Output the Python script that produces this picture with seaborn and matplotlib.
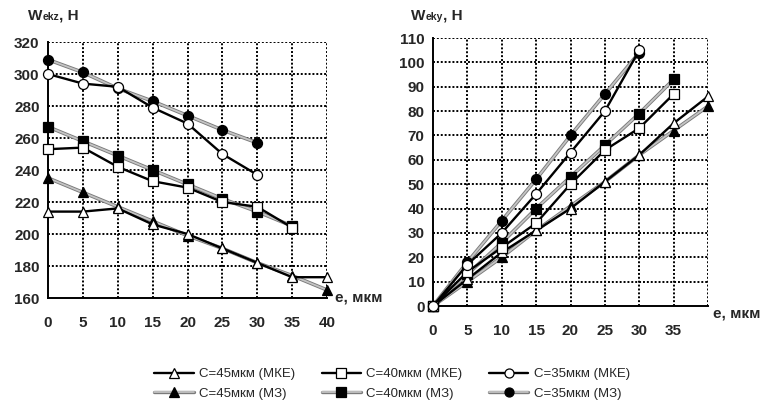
import matplotlib
matplotlib.use("Agg")
import matplotlib.pyplot as plt
import matplotlib.patheffects as pe
import seaborn as sns
import pandas as pd
import numpy as np
from matplotlib.lines import Line2D
from matplotlib.legend_handler import HandlerTuple
from matplotlib.offsetbox import TextArea, HPacker, AnnotationBbox

sns.set_style("white")
plt.rcParams['font.family'] = ['Liberation Sans', 'DejaVu Sans']

# ---- data ----
e_vals = [0, 5, 10, 15, 20, 25, 30, 35, 40]

# Left chart: Wekz, H
wz_45_mke = [214, 214, 216, 206, 200, 191, 182, 173, 173]
wz_45_m3 = [235, 226, 217, 208, 199, 191, 182, 174, 165]
wz_40_mke = [253, 254, 242, 233, 229, 220, 217, 204]
wz_40_m3 = [267, 258, 249, 240, 231, 222, 214, 205]
wz_35_mke = [300, 294, 292, 279, 269, 250, 237]
wz_35_m3 = [309, 301, 291, 283, 274, 265, 257]

# Right chart: Weky, H
wy_45_mke = [0, 11, 22, 31, 40, 51, 62, 75, 86]
wy_45_m3 = [0, 10, 20, 31, 41, 51, 62, 72, 82]
wy_40_mke = [0, 14, 24, 34, 50, 64, 73, 87]
wy_40_m3 = [0, 13, 26, 40, 53, 66, 79, 93]
wy_35_mke = [0, 17, 30, 46, 63, 80, 105]
wy_35_m3 = [0, 18, 35, 52, 70, 87, 104]

labels = {
    "45_mke": "С=45мкм (МКЕ)", "45_m3": "С=45мкм (МЗ)",
    "40_mke": "С=40мкм (МКЕ)", "40_m3": "С=40мкм (МЗ)",
    "35_mke": "С=35мкм (МКЕ)", "35_m3": "С=35мкм (МЗ)",
}
markers = {"45": "^", "40": "s", "35": "o"}

left_series = {"45_mke": wz_45_mke, "45_m3": wz_45_m3, "40_mke": wz_40_mke,
               "40_m3": wz_40_m3, "35_mke": wz_35_mke, "35_m3": wz_35_m3}
right_series = {"45_mke": wy_45_mke, "45_m3": wy_45_m3, "40_mke": wy_40_mke,
                "40_m3": wy_40_m3, "35_mke": wy_35_mke, "35_m3": wy_35_m3}

GRAY = "#c4c4c4"
MS = 7.2
GRAY_FX = [pe.Stroke(linewidth=2.6, foreground="#7a7a7a"), pe.Normal()]

def style(key):
    c, kind = key.split("_")
    if kind == "mke":
        return dict(color="black", lw=1.7, marker=markers[c], mfc="white",
                    mec="black", mew=0.9, ms=MS, fx=None)
    return dict(color=GRAY, lw=1.3, marker=markers[c], mfc="black",
                mec="black", mew=0.9, ms=MS, fx=GRAY_FX)

W, H = 763, 409
fig = plt.figure(figsize=(W / 100, H / 100), dpi=100)
axL = fig.add_axes([48 / W, 1 - 298 / H, (327 - 48) / W, (298 - 42) / H])
axR = fig.add_axes([433 / W, 1 - 306 / H, (708 - 433) / W, (306 - 38) / H])

def draw(ax, series):
    order = ["45_m3", "40_m3", "35_m3", "45_mke", "40_mke", "35_mke"]
    for key in order:
        vals = series[key]
        df = pd.DataFrame({"e": e_vals[:len(vals)], "w": vals})
        st = style(key)
        n0 = len(ax.lines)
        sns.lineplot(data=df, x="e", y="w", ax=ax, color=st["color"],
                     linewidth=st["lw"], marker=st["marker"],
                     markerfacecolor=st["mfc"], markeredgecolor=st["mec"],
                     markeredgewidth=st["mew"], markersize=st["ms"],
                     clip_on=False, zorder=3 if key.endswith("m3") else 4)
        if st["fx"] is not None:
            ln = ax.lines[n0]
            # line with outline, markers drawn on top without effect
            ln.set_marker("None")
            ln.set_path_effects(st["fx"])
            sns.lineplot(data=df, x="e", y="w", ax=ax, color="black",
                         linestyle="None", marker=st["marker"],
                         markerfacecolor=st["mfc"], markeredgecolor=st["mec"],
                         markeredgewidth=st["mew"], markersize=st["ms"],
                         clip_on=False, zorder=3.5)

draw(axL, left_series)
draw(axR, right_series)

axL.set_ylim(160, 320)
axL.set_yticks(range(160, 321, 20))
axR.set_ylim(0, 110)
axR.set_yticks(range(0, 111, 10))

for ax in (axL, axR):
    ax.set_xlim(0, 40)
    ax.set_xticks(range(0, 41, 5))
    ax.set_xlabel("")
    ax.set_ylabel("")
    for s in ("top", "right"):
        ax.spines[s].set_visible(False)
    for s in ("left", "bottom"):
        ax.spines[s].set_color("black")
        ax.spines[s].set_linewidth(1.4)
        ax.spines[s].set_zorder(2.5)
    ax.tick_params(axis="both", which="both", direction="inout", length=6,
                   width=1.1, color="black", labelsize=11)
    ax.tick_params(axis="x", pad=10)
    ax.tick_params(axis="y", pad=3)

axR.set_xticklabels([str(v) for v in range(0, 36, 5)] + [""])

for ax in (axL, axR):
    for t in ax.get_xticklabels() + ax.get_yticklabels():
        t.set_fontweight("bold")
    # dotted grid
    for xv in ax.get_xticks():
        if xv > 0:
            ax.axvline(xv, color="black", linestyle=(0, (1, 1)),
                       linewidth=1.4, zorder=1)
    for yv in ax.get_yticks():
        if yv > ax.get_ylim()[0]:
            ax.axhline(yv, color="black", linestyle=(0, (1, 1)),
                       linewidth=1.4, zorder=1)

# x axis labels
fig.text(335 / W, 1 - 297 / H, "e, мкм", fontsize=11, fontweight="bold",
         ha="left", va="center")
fig.text(713 / W, 1 - 313 / H, "e, мкм", fontsize=11, fontweight="bold",
         ha="left", va="center")

# y axis labels with small "ekz"/"eky"
def ylabel(x, y, sub):
    parts = [TextArea("W", textprops=dict(fontsize=11, fontweight="bold")),
             TextArea(sub, textprops=dict(fontsize=7.5, fontweight="bold")),
             TextArea(", Н", textprops=dict(fontsize=11, fontweight="bold"))]
    box = HPacker(children=parts, align="baseline", pad=0, sep=0)
    ab = AnnotationBbox(box, (x / W, 1 - y / H), xycoords="figure fraction",
                        frameon=False, box_alignment=(0, 0.5))
    fig.add_artist(ab)

ylabel(28, 16, "ekz")
ylabel(411, 16, "eky")

# legend
handles, labs = [], []
for c in ["45", "40", "35"]:
    for kind in ["mke", "m3"]:
        st = style(f"{c}_{kind}")
        if st["fx"] is None:
            h = Line2D([0], [0], color=st["color"], lw=st["lw"],
                       marker=st["marker"], mfc=st["mfc"], mec=st["mec"],
                       mew=st["mew"], ms=6.5)
        else:
            hl = Line2D([0], [0], color=st["color"], lw=st["lw"],
                        path_effects=[pe.Stroke(linewidth=2.4, foreground="#7a7a7a"),
                                      pe.Normal()])
            hm = Line2D([0], [0], linestyle="None", marker=st["marker"],
                        mfc=st["mfc"], mec=st["mec"], mew=st["mew"], ms=6.5)
            h = (hl, hm)
        handles.append(h)
        labs.append(labels[f"{c}_{kind}"])
fig.legend(handles=handles, labels=labs, loc="center",
           bbox_to_anchor=(392 / W, 1 - 384 / H),
           ncol=3, frameon=False, fontsize=9.5, handlelength=3.0,
           handletextpad=0.4, columnspacing=2.0, labelspacing=0.55,
           handler_map={tuple: HandlerTuple(ndivide=1)})

fig.savefig("out.png", dpi=100)
